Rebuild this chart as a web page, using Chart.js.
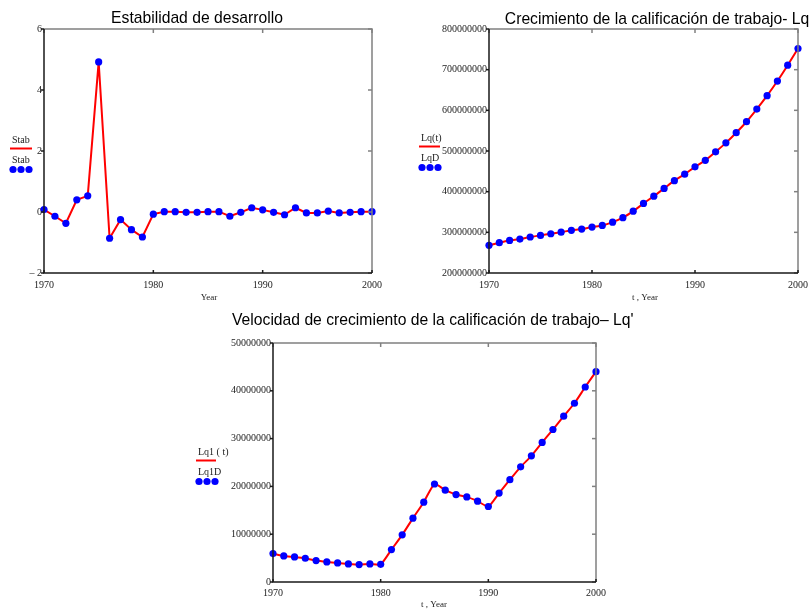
<!DOCTYPE html>
<html lang="es">
<head>
    <meta charset="UTF-8">
    <title>Calificación de trabajo</title>
    <style>
        body { margin: 0; background: #fff; width: 811px; height: 610px; position: relative; overflow: hidden; }
        .box { position: absolute; }
    </style>
    <script src="https://cdn.jsdelivr.net/npm/chart.js@4.4.1/dist/chart.umd.min.js"></script>
</head>
<body>
    <div class="box" style="left:0;top:0;width:395px;height:305px"><canvas id="stabChart"></canvas></div>
    <div class="box" style="left:395px;top:0;width:419px;height:305px"><canvas id="lqChart"></canvas></div>
    <div class="box" style="left:190px;top:305px;width:450px;height:305px"><canvas id="lq1Chart"></canvas></div>

    <script>
        // años 1970..2000
        const years = [1970, 1971, 1972, 1973, 1974, 1975, 1976, 1977, 1978, 1979,
                       1980, 1981, 1982, 1983, 1984, 1985, 1986, 1987, 1988, 1989,
                       1990, 1991, 1992, 1993, 1994, 1995, 1996, 1997, 1998, 1999, 2000];

        // Estabilidad de desarrollo
        const stab = [0.08, -0.14, -0.37, 0.40, 0.53, 4.92, -0.86, -0.25, -0.58, -0.82,
                      -0.07, 0.01, 0.01, -0.01, -0.01, 0.01, 0.01, -0.14, -0.01, 0.14,
                      0.07, -0.01, -0.09, 0.14, -0.03, -0.03, 0.03, -0.03, -0.01, 0.01, 0.01];

        // Lq
        const lq = [268e6, 274.5e6, 280e6, 283.5e6, 288.5e6, 292.5e6, 296.5e6, 300.5e6, 305e6, 308e6,
                    313e6, 317e6, 325e6, 336e6, 352e6, 371e6, 389e6, 408e6, 427e6, 443e6,
                    461e6, 477e6, 498e6, 520e6, 545e6, 572e6, 603e6, 636e6, 672e6, 711e6, 752e6];

        // Lq'
        const lq1 = [5.94e6, 5.45e6, 5.24e6, 4.97e6, 4.48e6, 4.2e6, 3.99e6, 3.78e6, 3.64e6, 3.78e6,
                     3.7e6, 6.78e6, 9.86e6, 13.36e6, 16.7e6, 20.5e6, 19.2e6, 18.3e6, 17.8e6, 16.9e6,
                     15.8e6, 18.6e6, 21.4e6, 24.1e6, 26.4e6, 29.2e6, 31.9e6, 34.7e6, 37.4e6, 40.8e6, 44.0e6];

        const xTicks = [1970, 1980, 1990, 2000];
        const stabTicks = [-2, 0, 2, 4, 6];
        const lqTicks = [2e8, 3e8, 4e8, 5e8, 6e8, 7e8, 8e8];
        const lq1Ticks = [0, 1e7, 2e7, 3e7, 4e7, 5e7];

        const serif = '"Liberation Serif", "Times New Roman", serif';
        const sans = '"Liberation Sans", Arial, sans-serif';

        // marco, rayitas, título, leyenda y título del eje
        const decoPlugin = {
            id: 'deco',
            afterDraw(chart, args, o) {
                const ctx = chart.ctx;
                const a = chart.chartArea;
                const xs = chart.scales.x, ys = chart.scales.y;
                ctx.save();
                ctx.lineWidth = 1.5;
                // arriba y derecha gris
                ctx.strokeStyle = '#808080';
                ctx.beginPath();
                ctx.moveTo(a.left, a.top); ctx.lineTo(a.right, a.top); ctx.lineTo(a.right, a.bottom);
                ctx.stroke();
                xs.ticks.forEach(t => {
                    const px = xs.getPixelForValue(t.value);
                    ctx.beginPath(); ctx.moveTo(px, a.top); ctx.lineTo(px, a.top + 4); ctx.stroke();
                });
                ys.ticks.forEach(t => {
                    const py = ys.getPixelForValue(t.value);
                    ctx.beginPath(); ctx.moveTo(a.right, py); ctx.lineTo(a.right - 4, py); ctx.stroke();
                });
                // izquierda y abajo negro
                ctx.strokeStyle = '#1a1a1a';
                ctx.beginPath();
                ctx.moveTo(a.left, a.top); ctx.lineTo(a.left, a.bottom); ctx.lineTo(a.right, a.bottom);
                ctx.stroke();
                ys.ticks.forEach(t => {
                    const py = ys.getPixelForValue(t.value);
                    ctx.beginPath(); ctx.moveTo(a.left, py); ctx.lineTo(a.left - 3, py); ctx.stroke();
                });
                xs.ticks.forEach(t => {
                    const px = xs.getPixelForValue(t.value);
                    ctx.beginPath(); ctx.moveTo(px, a.bottom); ctx.lineTo(px, a.bottom - 3); ctx.stroke();
                });

                // título
                ctx.fillStyle = '#000';
                ctx.font = '15.7px ' + sans;
                ctx.textAlign = o.titleAlign;
                ctx.textBaseline = 'alphabetic';
                ctx.fillText(o.title, o.titleX, o.titleY);

                // título del eje x
                ctx.fillStyle = '#222';
                ctx.textBaseline = 'middle';
                ctx.font = '9px ' + serif;
                ctx.textAlign = 'center';
                ctx.fillText(o.xTitle, o.xTitleX, o.xTitleY);

                // leyenda de la izquierda
                const lg = o.legend;
                ctx.font = '10px ' + serif;
                ctx.textAlign = 'left';
                ctx.fillText(lg.line, lg.x, lg.y);
                ctx.strokeStyle = 'red';
                ctx.lineWidth = 2;
                ctx.beginPath(); ctx.moveTo(lg.x - 2, lg.y + 8.5); ctx.lineTo(lg.x + lg.w, lg.y + 8.5); ctx.stroke();
                ctx.fillText(lg.dots, lg.x, lg.y + 20);
                ctx.fillStyle = 'blue';
                for (let i = 0; i < 3; i++) {
                    ctx.beginPath();
                    ctx.arc(lg.x + 1 + i * 8, lg.y + 29.5, 3.6, 0, Math.PI * 2);
                    ctx.fill();
                }
                ctx.restore();
            }
        };

        function makeChart(id, values, yTicks, yFmt, box) {
            const pts = years.map((y, i) => ({ x: y, y: values[i] }));
            return new Chart(document.getElementById(id), {
                type: 'line',
                data: {
                    datasets: [
                        {
                            data: pts,
                            showLine: false,
                            pointRadius: 3.6,
                            pointHoverRadius: 3.6,
                            pointBackgroundColor: 'blue',
                            pointBorderWidth: 0,
                            clip: false
                        },
                        {
                            data: pts,
                            borderColor: 'red',
                            borderWidth: 2,
                            pointRadius: 0,
                            tension: box.tension,
                            clip: false
                        }
                    ]
                },
                plugins: [decoPlugin],
                options: {
                    responsive: true,
                    maintainAspectRatio: false,
                    animation: false,
                    events: [],
                    layout: { padding: { left: 0, top: box.top, right: box.right, bottom: 0 } },
                    plugins: {
                        legend: { display: false },
                        title: { display: false },
                        tooltip: { enabled: false },
                        deco: box.deco
                    },
                    scales: {
                        x: {
                            type: 'linear',
                            min: 1970,
                            max: 2000,
                            afterFit: s => { s.height = box.xHeight; },
                            afterBuildTicks: s => { s.ticks = xTicks.map(v => ({ value: v })); },
                            border: { display: false },
                            grid: { display: false, drawTicks: false },
                            ticks: {
                                padding: box.xPad,
                                maxRotation: 0,
                                color: '#222',
                                font: { family: serif, size: 10 },
                                callback: v => String(v)
                            }
                        },
                        y: {
                            min: yTicks[0],
                            max: yTicks[yTicks.length - 1],
                            afterFit: s => { s.width = box.yWidth; },
                            afterBuildTicks: s => { s.ticks = yTicks.map(v => ({ value: v })); },
                            border: { display: false },
                            grid: { display: false, drawTicks: false },
                            ticks: {
                                padding: 2,
                                color: '#222',
                                font: { family: serif, size: 10 },
                                callback: yFmt
                            }
                        }
                    }
                }
            });
        }

        makeChart('stabChart', stab, stabTicks, v => (v < 0 ? '\u2013 ' + Math.abs(v) : String(v)), {
            top: 29, right: 23, xHeight: 32, yWidth: 44, tension: 0, xPad: 6,
            deco: {
                title: 'Estabilidad de desarrollo', titleAlign: 'center', titleX: 197, titleY: 23,
                xTitle: 'Year', xTitleX: 209, xTitleY: 298,
                legend: { line: 'Stab', dots: 'Stab', x: 12, y: 140, w: 20 }
            }
        });

        makeChart('lqChart', lq, lqTicks, v => String(v), {
            top: 29, right: 16, xHeight: 32, yWidth: 94, tension: 0.3, xPad: 6,
            deco: {
                title: 'Crecimiento de la calificación de trabajo- Lq', titleAlign: 'center', titleX: 262, titleY: 24,
                xTitle: 't , Year', xTitleX: 250, xTitleY: 298,
                legend: { line: 'Lq(t)', dots: 'LqD', x: 26, y: 138, w: 19 }
            }
        });

        makeChart('lq1Chart', lq1, lq1Ticks, v => String(v), {
            top: 38, right: 44, xHeight: 28, yWidth: 83, tension: 0.2, xPad: 5,
            deco: {
                title: 'Velocidad de crecimiento de la calificación de trabajo\u2013 Lq\'', titleAlign: 'left', titleX: 42, titleY: 20,
                xTitle: 't , Year', xTitleX: 244, xTitleY: 300,
                legend: { line: 'Lq1 ( t)', dots: 'Lq1D', x: 8, y: 147, w: 18 }
            }
        });
    </script>
</body>
</html>
